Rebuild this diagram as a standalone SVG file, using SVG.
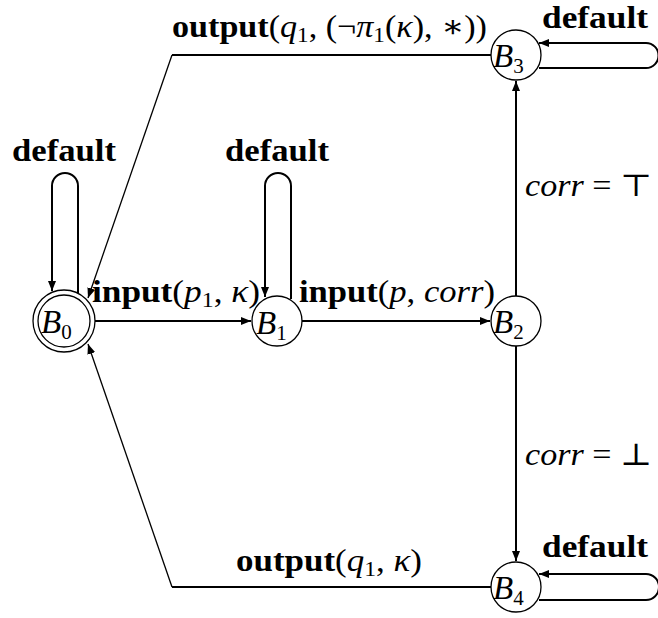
<svg xmlns="http://www.w3.org/2000/svg" width="658" height="618" viewBox="0 0 658 618">
<style>
.node{fill:#fff;stroke:#000;stroke-width:1.3}
.edge{fill:none;stroke:#000;stroke-width:2}
.thin{fill:none;stroke:#000;stroke-width:1.3}
.lbl{font-family:"Liberation Serif","DejaVu Serif",serif;font-size:31px;fill:#000}
.b{font-weight:bold}
.i{font-style:italic}
.nl{font-family:"Liberation Serif","DejaVu Serif",serif;font-size:33px;font-style:italic;fill:#000}
.sub{font-size:21px;font-style:normal}
</style>
<defs>
<marker id="ah" markerUnits="userSpaceOnUse" markerWidth="11" markerHeight="8" refX="10" refY="4" orient="auto">
<path d="M0,0 L10,4 L0,8 z" fill="#000"/>
</marker>
</defs>
<g id="connectors">
<line class="edge" x1="95" y1="321" x2="251" y2="321" marker-end="url(#ah)"/>
<line class="edge" x1="302" y1="321" x2="490" y2="321" marker-end="url(#ah)"/>
<line class="edge" x1="516" y1="296" x2="516" y2="81" marker-end="url(#ah)"/>
<line class="edge" x1="516" y1="346" x2="516" y2="561" marker-end="url(#ah)"/>
<polyline class="edge" points="491,55 172,55"/>
<line class="thin" x1="172" y1="55" x2="88" y2="298" marker-end="url(#ah)"/>
<polyline class="edge" points="491,587 172,587"/>
<line class="thin" x1="172" y1="587" x2="88" y2="344" marker-end="url(#ah)"/>
<path class="edge" d="M78,293 L78,186 A13,13 0 0 0 52,186 L52,291" marker-end="url(#ah)"/>
<path class="edge" d="M291,299 L291,186 A13,13 0 0 0 265,186 L265,297" marker-end="url(#ah)"/>
<path class="edge" d="M539,68 L646,68 A12.5,12.5 0 0 0 646,43 L539,43" marker-end="url(#ah)"/>
<path class="edge" d="M539,600 L646,600 A13,13 0 0 0 646,574 L539,574" marker-end="url(#ah)"/>
</g>
<g id="B0">
<circle class="node" cx="64" cy="321" r="31"/>
<circle class="node" cx="64" cy="321" r="26"/>
<text class="nl" x="41" y="333">B<tspan class="sub" dy="6">0</tspan></text>
</g>
<g id="B1">
<circle class="node" cx="277" cy="321" r="25"/>
<text class="nl" x="256" y="334">B<tspan class="sub" dy="6">1</tspan></text>
</g>
<g id="B2">
<circle class="node" cx="516" cy="321" r="25"/>
<text class="nl" x="493" y="333">B<tspan class="sub" dy="6">2</tspan></text>
</g>
<g id="B3">
<circle class="node" cx="516" cy="55" r="25"/>
<text class="nl" x="493" y="67">B<tspan class="sub" dy="6">3</tspan></text>
</g>
<g id="B4">
<circle class="node" cx="516" cy="587" r="25"/>
<text class="nl" x="493" y="599">B<tspan class="sub" dy="6">4</tspan></text>
</g>
<g id="labels">
<text class="lbl b" x="12" y="161" textLength="104" lengthAdjust="spacingAndGlyphs">default</text>
<text class="lbl b" x="225" y="161" textLength="104" lengthAdjust="spacingAndGlyphs">default</text>
<text class="lbl b" x="542" y="28" textLength="106" lengthAdjust="spacingAndGlyphs">default</text>
<text class="lbl b" x="542" y="557" textLength="106" lengthAdjust="spacingAndGlyphs">default</text>
<text class="lbl" x="172" y="37" textLength="315" lengthAdjust="spacingAndGlyphs"><tspan class="b">output</tspan>(<tspan class="i">q</tspan><tspan font-size="21" dy="5">1</tspan><tspan dy="-5">, (¬</tspan><tspan class="i">π</tspan><tspan font-size="21" dy="5">1</tspan><tspan dy="-5">(</tspan><tspan class="i">κ</tspan>), ∗))</text>
<text class="lbl" x="92" y="302" textLength="168" lengthAdjust="spacingAndGlyphs"><tspan class="b">input</tspan>(<tspan class="i">p</tspan><tspan font-size="21" dy="5">1</tspan><tspan dy="-5">, </tspan><tspan class="i">κ</tspan>)</text>
<text class="lbl" x="299" y="302" textLength="196" lengthAdjust="spacingAndGlyphs"><tspan class="b">input</tspan>(<tspan class="i">p</tspan>, <tspan class="i">corr</tspan>)</text>
<text class="lbl" x="525" y="196" textLength="127" lengthAdjust="spacingAndGlyphs"><tspan class="i">corr</tspan> = ⊤</text>
<text class="lbl" x="525" y="465" textLength="127" lengthAdjust="spacingAndGlyphs"><tspan class="i">corr</tspan> = ⊥</text>
<text class="lbl" x="236" y="571" textLength="186" lengthAdjust="spacingAndGlyphs"><tspan class="b">output</tspan>(<tspan class="i">q</tspan><tspan font-size="21" dy="5">1</tspan><tspan dy="-5">, </tspan><tspan class="i">κ</tspan>)</text>
</g>
</svg>
